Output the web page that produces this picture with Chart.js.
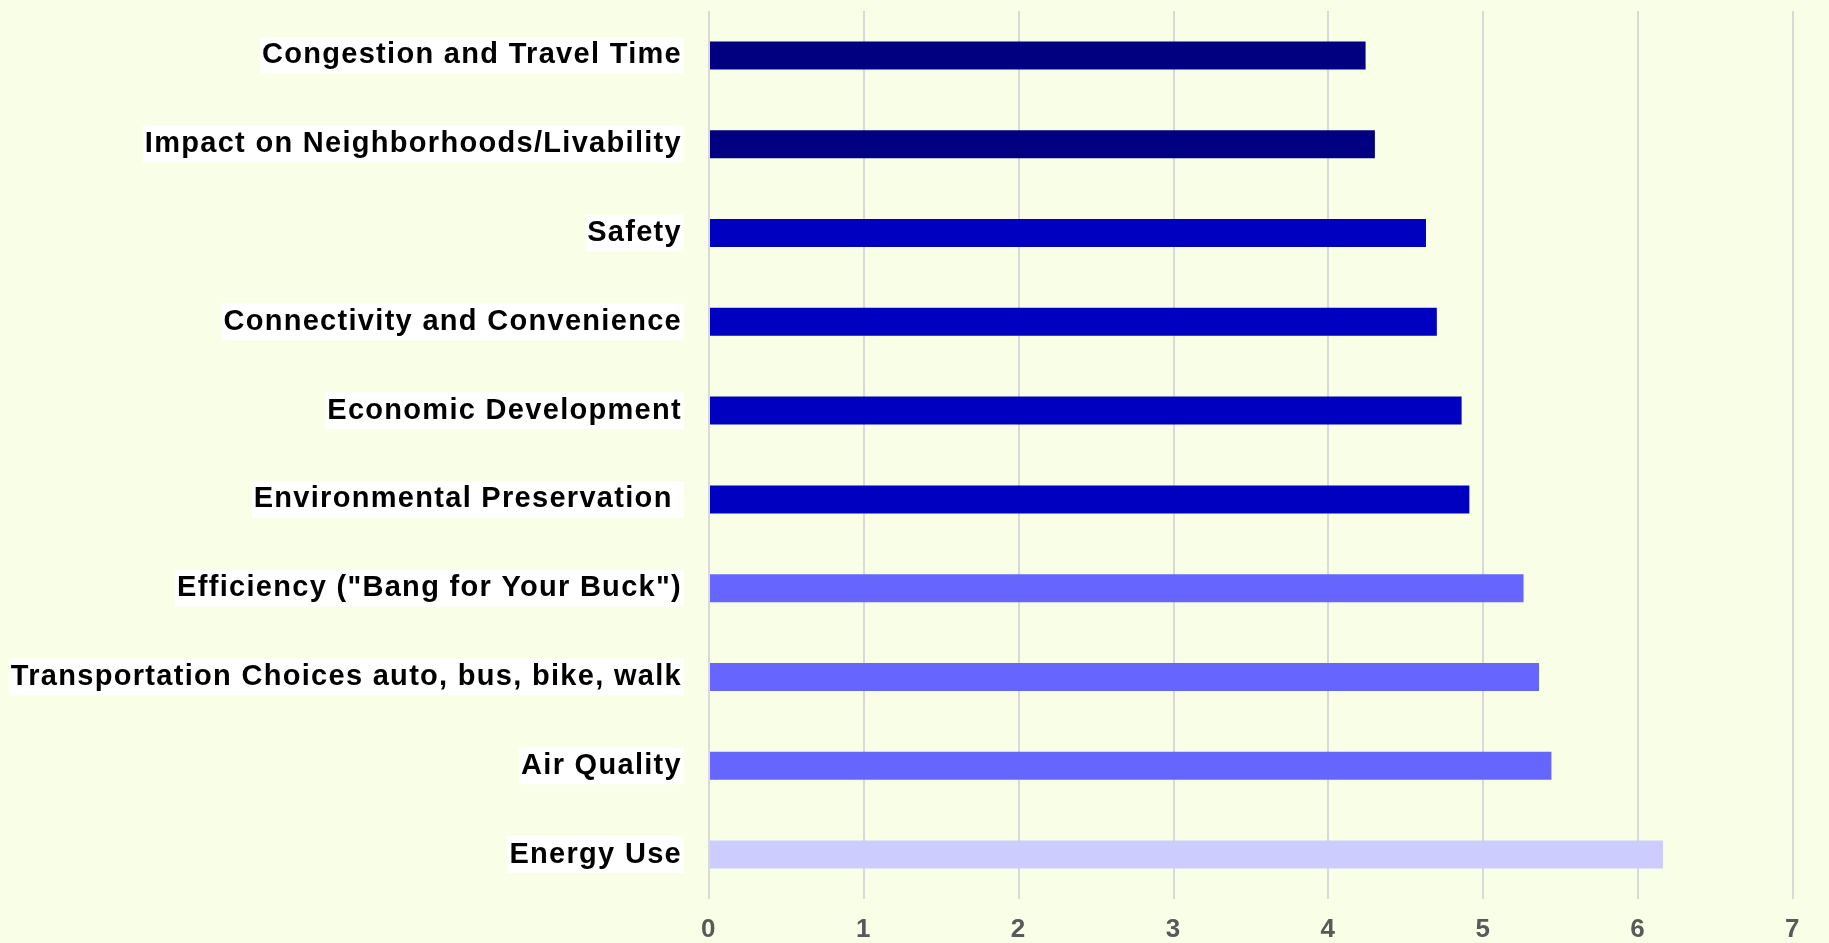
<!DOCTYPE html>
<html>
<head>
<meta charset="utf-8">
<script src="https://cdn.jsdelivr.net/npm/chart.js@4"></script>
<style>
  html, body { margin: 0; padding: 0; background: #f8ffe6; }
  #wrap { width: 1829px; height: 943px; }
</style>
</head>
<body>
<div id="wrap"><canvas id="barChart"></canvas></div>
<script>
// Datos
const categories = [
  "Congestion and Travel Time",
  "Impact on Neighborhoods/Livability",
  "Safety",
  "Connectivity and Convenience",
  "Economic Development",
  "Environmental Preservation ",
  'Efficiency ("Bang for Your Buck")',
  "Transportation Choices auto, bus, bike, walk",
  "Air Quality",
  "Energy Use",
];
const values = [4.24, 4.30, 4.63, 4.70, 4.86, 4.91, 5.26, 5.36, 5.44, 6.16];
const barColors = [
  "#000080", "#000080",
  "#0000c0", "#0000c0", "#0000c0", "#0000c0",
  "#6666ff", "#6666ff", "#6666ff",
  "#ccccff",
];
const xTicks = [0, 1, 2, 3, 4, 5, 6, 7];

const fontFamily = "'Liberation Sans', Arial, sans-serif";

// espaciado de letras (el canvas lo pierde al redimensionar)
const letterSpacing = {
  id: "letterSpacing",
  beforeUpdate: (chart) => { chart.ctx.letterSpacing = "1.3px"; },
  beforeDraw: (chart) => { chart.ctx.letterSpacing = "1.3px"; },
};

new Chart(document.getElementById("barChart"), {
  type: "bar",
  plugins: [letterSpacing],
  data: {
    labels: categories,
    datasets: [
      {
        data: values,
        backgroundColor: barColors,
        barPercentage: 0.315,
        categoryPercentage: 1,
      },
    ],
  },
  options: {
    indexAxis: "y",
    responsive: true,
    maintainAspectRatio: false,
    animation: false,
    layout: { padding: { top: 11, right: 36, left: 0, bottom: 0 } },
    plugins: {
      legend: { display: false },
      tooltip: { enabled: false },
    },
    scales: {
      x: {
        min: xTicks[0],
        max: xTicks[xTicks.length - 1],
        afterBuildTicks: (scale) => {
          scale.ticks = xTicks.map((v) => ({ value: v }));
        },
        afterFit: (scale) => {
          scale.height = 44;
          scale.paddingLeft = 0;
          scale.paddingRight = 0;
        },
        grid: { color: "#d9d9d9", lineWidth: 2, tickLength: 0, drawTicks: false },
        border: { display: false },
        ticks: {
          color: "#595959",
          padding: 15,
          font: { family: fontFamily, size: 26, weight: "bold" },
        },
      },
      y: {
        afterFit: (scale) => {
          scale.width = 709;
          scale.paddingTop = 0;
          scale.paddingBottom = 0;
        },
        grid: { display: false, drawTicks: false },
        border: { display: false },
        ticks: {
          color: "#000000",
          padding: 27,
          showLabelBackdrop: true,
          backdropColor: "#ffffff",
          backdropPadding: { x: 2, y: 1 },
          font: { family: fontFamily, size: 29, weight: "bold" },
        },
      },
    },
  },
});
</script>
</body>
</html>
